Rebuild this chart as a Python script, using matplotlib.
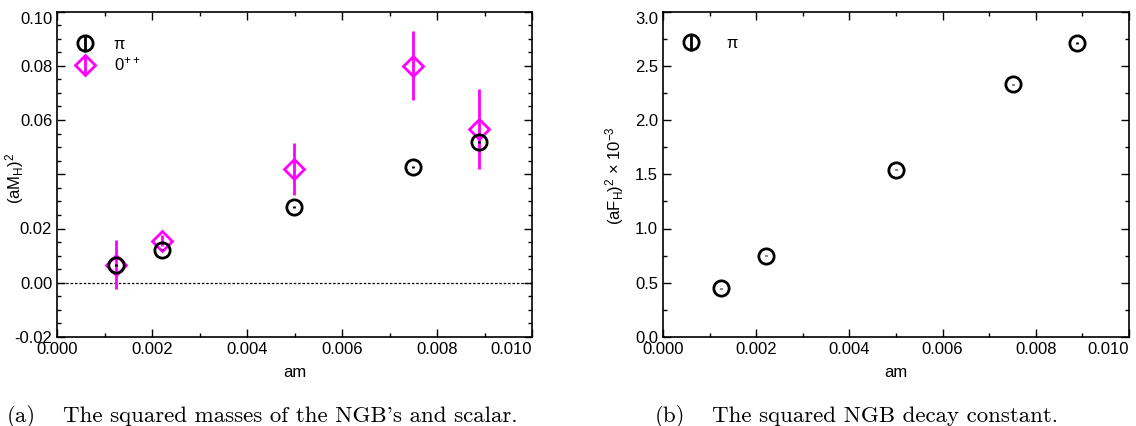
import matplotlib
matplotlib.use("Agg")
import matplotlib.pyplot as plt
from matplotlib.ticker import MultipleLocator, FixedLocator, FixedFormatter

plt.rcParams['font.family'] = ['Liberation Sans', 'DejaVu Sans']
plt.rcParams['mathtext.fontset'] = 'custom'
plt.rcParams['mathtext.rm'] = 'Liberation Sans'
plt.rcParams['mathtext.it'] = 'Liberation Sans:italic'

# Data
am = [0.00124, 0.00221, 0.00499, 0.0075, 0.00889]
pi_m2 = [0.0066, 0.0122, 0.028, 0.0427, 0.052]
pi_m2_err = [0.0003, 0.0003, 0.0003, 0.0003, 0.0003]
scalar_m2 = [0.0066, 0.0155, 0.042, 0.080, 0.0567]
scalar_m2_err = [0.009, 0.002, 0.0095, 0.0127, 0.0147]
pi_f2 = [0.45, 0.75, 1.54, 2.33, 2.71]
pi_f2_err = [0.005, 0.005, 0.005, 0.005, 0.005]

left_yticks = [-0.02, 0.00, 0.02, 0.04, 0.06, 0.08, 0.10]
left_yticklabels = ['-0.02', '0.00', '0.02', '', '0.06', '0.08', '0.10']
xticks = [0.000, 0.002, 0.004, 0.006, 0.008, 0.010]
xticklabels = ['0.000', '0.002', '0.004', '0.006', '0.008', '0.010']
right_yticks = [0.0, 0.5, 1.0, 1.5, 2.0, 2.5, 3.0]
right_yticklabels = ['0.0', '0.5', '1.0', '1.5', '2.0', '2.5', '3.0']

MAG = '#FF00FF'

fig = plt.figure(figsize=(11.36, 4.26), dpi=100)
ax1 = fig.add_axes([57/1136, 1-337/426, (532-57)/1136, (337-11.5)/426])
ax2 = fig.add_axes([663/1136, 1-337/426, (1129-663)/1136, (337-11.5)/426])

def style(ax):
    ax.tick_params(which='both', direction='in', top=True, right=True, labelsize=12, width=1.0)
    ax.tick_params(which='major', length=6)
    ax.tick_params(which='minor', length=3)
    for s in ax.spines.values():
        s.set_linewidth(1.2)
    ax.xaxis.set_major_locator(FixedLocator(xticks))
    ax.xaxis.set_major_formatter(FixedFormatter(xticklabels))
    ax.xaxis.set_minor_locator(MultipleLocator(0.001))
    ax.set_xlim(0, 0.010)
    ax.set_xlabel('am', fontsize=12, labelpad=6)
    ax.xaxis.get_major_ticks()[-1].label1.set_horizontalalignment('right')
    ax.xaxis.get_major_ticks()[-1].label1.set_x(0.010)
    ax.yaxis.get_major_ticks()[-1].label1.set_verticalalignment('top')

# Left panel
ax1.axhline(0, color='black', lw=0.9, ls=(0, (2, 1.5)))
ax1.errorbar(am, pi_m2, yerr=pi_m2_err, fmt='o', ms=11, mfc='none', mec='black',
             mew=2, ecolor='black', elinewidth=2, capsize=0, label='π', zorder=3)
ax1.errorbar(am, scalar_m2, yerr=scalar_m2_err, fmt='D', ms=10, mfc='none', mec=MAG,
             mew=2, ecolor=MAG, elinewidth=2, capsize=0, label='0$^{++}$', zorder=2)
ax1.set_ylim(-0.02, 0.10)
ax1.yaxis.set_major_locator(FixedLocator(left_yticks))
ax1.yaxis.set_major_formatter(FixedFormatter(left_yticklabels))
ax1.yaxis.set_minor_locator(MultipleLocator(0.005))
ax1.set_ylabel('(aM$_\\mathrm{H}$)$^2$', fontsize=12)
ax1.yaxis.set_label_coords(-0.066, 0.488)
style(ax1)
ax1.legend(loc='upper left', frameon=False, fontsize=12, handletextpad=0.8,
           borderaxespad=0.4, bbox_to_anchor=(0.0, 0.962), labelspacing=0.2,
           handlelength=1.8)

# Right panel
ax2.errorbar(am, pi_f2, yerr=pi_f2_err, fmt='o', ms=11, mfc='none', mec='black',
             mew=2, ecolor='black', elinewidth=2, capsize=0, label='π')
ax2.set_ylim(0, 3.0)
ax2.yaxis.set_major_locator(FixedLocator(right_yticks))
ax2.yaxis.set_major_formatter(FixedFormatter(right_yticklabels))
ax2.yaxis.set_minor_locator(MultipleLocator(0.25))
ax2.set_ylabel('(aF$_\\mathrm{H}$)$^2$ × 10$^{-3}$', fontsize=12)
ax2.yaxis.set_label_coords(-0.079, 0.495)
style(ax2)
ax2.legend(loc='upper left', frameon=False, fontsize=12, handletextpad=1.2,
           borderaxespad=0.4, bbox_to_anchor=(0.0, 0.965), handlelength=1.8)

# Captions
cap_kw = dict(fontsize=16.5, family=['cmr10', 'DejaVu Serif'], va='baseline')
yb = 1 - 422/426
fig.text(7/1136, yb, '(a)', **cap_kw)
fig.text(63/1136, yb, "The squared masses of the NGB's and scalar.", **cap_kw)
fig.text(655/1136, yb, '(b)', **cap_kw)
fig.text(712/1136, yb, 'The squared NGB decay constant.', **cap_kw)

fig.savefig('out.png', dpi=100)
